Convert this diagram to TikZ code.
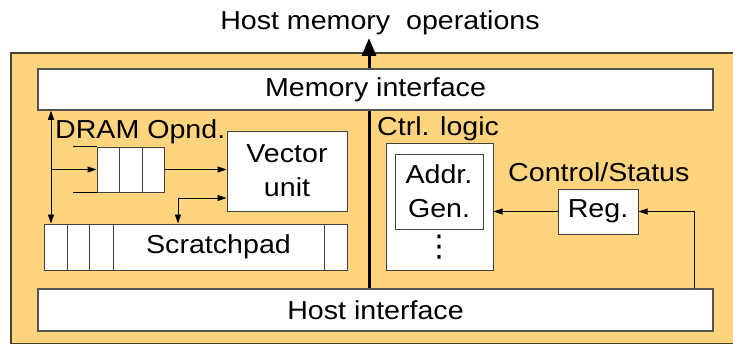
\documentclass[tikz,border=0pt]{standalone}
\usepackage{fontspec}
\setmainfont{Liberation Sans}[FakeStretch=1.1]
\newfontfamily\symfont{DejaVu Sans}
\usetikzlibrary{arrows.meta}
\definecolor{chipfill}{HTML}{FFD47E}
\definecolor{chipline}{HTML}{4A4030}
\definecolor{boxline}{HTML}{404040}
\tikzset{
  lbl/.style={font=\fontsize{26}{34}\selectfont, inner sep=0pt},
  box/.style={draw=boxline, fill=white, line width=1pt, inner sep=0pt,
    font=\fontsize{26}{34}\selectfont, align=center},
  wire/.style={draw=black, line width=0.9pt},
  tip/.style={-{Triangle[length=9pt,width=6pt]}},
  tips/.style={{Triangle[length=9pt,width=6pt]}-{Triangle[length=9pt,width=6pt]}},
  spine/.style={draw=black, line width=3pt},
}
\begin{document}
\begin{tikzpicture}[x=1pt,y=-1pt]
\clip (0,0) rectangle (733,345);

% chip outline
\path[fill=chipfill, draw=chipline, line width=1.2pt] (11,53) rectangle (760,343.5);

% interfaces
\node[box, line width=1.5pt, draw=boxline!90, minimum width=675, minimum height=41] (memif) at (375.5,89.5) {Memory interface};
\node[box, line width=1.5pt, draw=boxline!90, minimum width=675, minimum height=42] (hostif) at (375.5,310) {Host interface};

\node[lbl, anchor=base] (hmo) at (380,30) {Host memory\ \ operations};

% datapath side
\node[lbl, anchor=base west] (dram) at (55,138) {DRAM Opnd.};
\node[box, minimum width=22, minimum height=45] (q1) at (108,169.5) {};
\node[box, minimum width=23, minimum height=45] (q2) at (130.5,169.5) {};
\node[box, minimum width=22, minimum height=45] (q3) at (153,169.5) {};
\node[box, minimum width=120, minimum height=80] (vec) at (287,171) {Vector\\unit};

\node[box, minimum width=23, minimum height=46] (sp1) at (55.5,247) {};
\node[box, minimum width=22, minimum height=46] (sp2) at (78,247) {};
\node[box, minimum width=24, minimum height=46] (sp3) at (101,247) {};
\node[box, minimum width=211, minimum height=46] (spmain) at (218.5,247) {Scratchpad};
\node[box, minimum width=23, minimum height=46] (sp4) at (335.5,247) {};

% control side
\node[lbl, anchor=base west] (ctrllbl) at (377,135) {Ctrl. logic};
\node[box, minimum width=107, minimum height=127] (ctrl) at (439.5,206.5) {};
\node[box, minimum width=88, minimum height=75] (addr) at (439,191.5) {Addr.\\Gen.};
\node[inner sep=0pt, font=\symfont\fontsize{30}{30}\selectfont] (dots) at (439,247) {⋮};
\node[lbl, anchor=base west] (cslbl) at (508,181) {Control/Status};
\node[box, minimum width=80, minimum height=45] (reg) at (598,211.5) {Reg.};

% reference points for connectors
\coordinate (spx) at (369,0);
\coordinate (hmotip) at (369,38);
\coordinate (dv) at (51,0);
\coordinate (qin) at (73,0);
\coordinate (vj) at (178,198);
\coordinate (csin) at (694,0);

% bus to host memory
\draw[spine] (memif.south -| spx) -- (hostif.north -| spx);
\draw[spine, -{Triangle[length=18pt,width=14pt]}] (memif.north -| spx) -- (hmotip);

% operand queue
\draw[wire] (qin |- q1.north west) -- (q1.north west);
\draw[wire] (qin |- q1.south west) -- (q1.south west);
\draw[wire, tips] (memif.south -| dv) -- (sp1.north -| dv);
\draw[wire, tip] (dv |- q1.west) -- (q1.west);
\draw[wire, tip] (q3.east) -- (q3.east -| vec.west);
\draw[wire, tips] (spmain.north -| vj) |- (vec.west |- vj);

% control/status path
\draw[wire, tip] (reg.west) -- (ctrl.east |- reg.west);
\draw[wire, tip] (hostif.north -| csin) |- (reg.east);
\end{tikzpicture}
\end{document}
